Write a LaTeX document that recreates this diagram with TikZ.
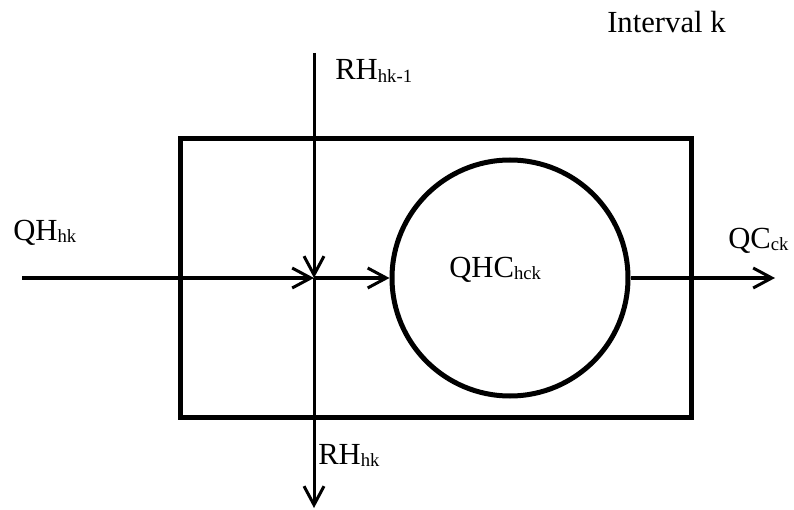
\documentclass[tikz,border=0pt]{standalone}
\usepackage{fontspec}
\setmainfont{Liberation Serif}
\usetikzlibrary{arrows.meta}
\newcommand{\hxFontSize}{\fontsize{23pt}{27pt}\selectfont}
\newcommand{\hxIdx}[1]{\raisebox{-2pt}{\fontsize{14pt}{16pt}\selectfont #1}}
\tikzset{
  hx base/.style={font=\hxFontSize},
  hx flow/.style={line width=2.25pt, -{Straight Barb[length=14pt,width=15pt]}},
  hx box/.style={draw, rectangle, line width=3.75pt,
    minimum width=383.25pt, minimum height=208.5pt, inner sep=0pt},
  hx unit/.style={draw, circle, line width=3.75pt,
    minimum size=177pt, inner sep=0pt},
  hx label/.style={anchor=base west, inner sep=0pt},
}

\begin{document}
\begin{tikzpicture}[
    hx base,
    x=0.75pt, y=-0.75pt
]
\useasboundingbox (0,0) rectangle (794,510);
\node (interval) [hx box]  at (435.5,278) {};
\node (qhc)      [hx unit] at (510,278) {};

\coordinate (jn)    at (314,278);
\coordinate (qhin)  at (22,278);
\coordinate (rhin)  at (314,53);
\coordinate (rhout) at (314,508);
\coordinate (qcout) at (775,278);

\node (title)   [hx label] at (607,33)  {Interval k};
\node (rhinl)   [hx label] at (335,80)  {RH\hxIdx{hk-1}};
\node (qhinl)   [hx label] at (13,240)  {QH\hxIdx{hk}};
\node (qhcl)    [hx label] at (449,277) {QHC\hxIdx{hck}};
\node (qcoutl)  [hx label] at (728,248) {QC\hxIdx{ck}};
\node (rhoutl)  [hx label] at (318,464) {RH\hxIdx{hk}};

\draw [hx flow] (qhin) -- (jn);
\draw [hx flow] (rhin) -- (jn);
\draw [hx flow] (jn) -- (qhc.west);
\draw [hx flow] (jn) -- (rhout);
\draw [hx flow] (qhc.east) -- (qcout);
\end{tikzpicture}
\end{document}
